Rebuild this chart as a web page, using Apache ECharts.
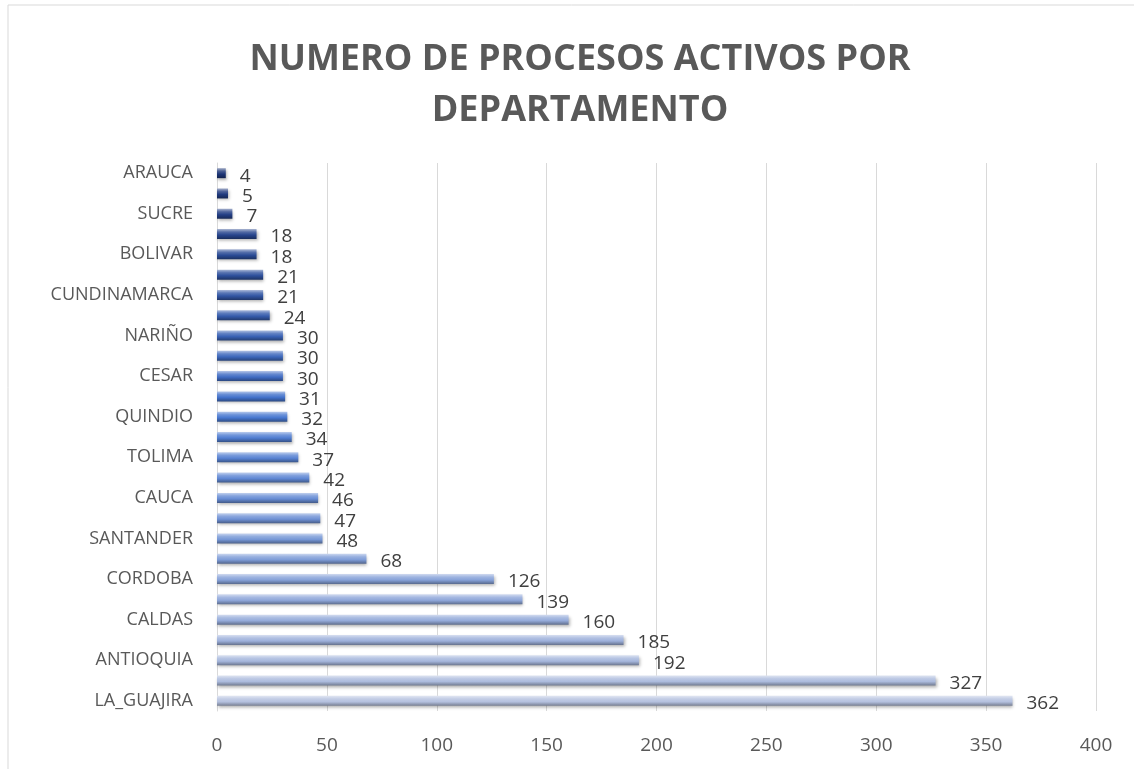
<!DOCTYPE html>
<html>
<head>
<meta charset="utf-8">
<script src="https://cdn.jsdelivr.net/npm/echarts@6/dist/echarts.min.js"></script>
<style>
html,body{margin:0;padding:0;background:#fff;}
#c{width:1134px;height:769px;}
</style>
</head>
<body>
<div id="c"></div>
<script>
const titleText = 'NUMERO DE PROCESOS ACTIVOS POR\nDEPARTAMENTO';
const categories = ['LA_GUAJIRA','MAGDALENA','ANTIOQUIA','ATLANTICO','CALDAS','VALLE_DEL_CAUCA','CORDOBA','META','SANTANDER','BOYACA','CAUCA','RISARALDA','TOLIMA','HUILA','QUINDIO','NORTE_DE_SANTANDER','CESAR','CAQUETA','NARIÑO','CASANARE','CUNDINAMARCA','PUTUMAYO','BOLIVAR','CHOCO','SUCRE','GUAVIARE','ARAUCA'];
const values = [362,327,192,185,160,139,126,68,48,47,46,42,37,34,32,31,30,30,30,24,21,21,18,18,7,5,4];
const xTicks = {min:0, max:400, interval:50};

function lerp(a,b,t){return a.map((v,i)=>Math.round(v+(b[i]-v)*t));}
function baseColor(t){
  const s0=[180,192,222], s1=[70,118,208], s2=[28,52,118];
  return t<0.55 ? lerp(s0,s1,t/0.55) : lerp(s1,s2,(t-0.55)/0.45);
}
function rgb(c){return 'rgb('+c.join(',')+')';}
const n = values.length;
const data = values.map((v,i)=>{
  const b = baseColor(i/(n-1));
  const light = lerp(b,[255,255,255],0.6);
  const dark = lerp(b,[0,0,0],0.35);
  return {value:v, itemStyle:{color:new echarts.graphic.LinearGradient(0,0,0,1,[
    {offset:0,color:rgb(light)},{offset:0.3,color:rgb(lerp(b,[255,255,255],0.2))},
    {offset:0.6,color:rgb(b)},{offset:1,color:rgb(dark)}])}};
});

const chart = echarts.init(document.getElementById('c'));
chart.setOption({
  backgroundColor:'#fff',
  animation:false,
  graphic:[
    {type:'rect',shape:{x:8,y:5,width:1200,height:800},style:{fill:'none',stroke:'#d9d9d9',lineWidth:1},silent:true},
    {type:'text',x:580,y:34,silent:true,style:{text:titleText,textAlign:'center',textVerticalAlign:'top',
      font:'bold 36px "Open Sans"',fill:'#595959',lineHeight:51,align:'center',verticalAlign:'top'}}
  ],
  grid:{left:217,right:38,top:163,bottom:58},
  xAxis:{type:'value',min:xTicks.min,max:xTicks.max,interval:xTicks.interval,
    axisLine:{show:false},axisTick:{show:false},
    splitLine:{lineStyle:{color:'#d9d9d9',width:1}},
    axisLabel:{fontFamily:'Open Sans',fontSize:19,color:'#595959',margin:25}},
  yAxis:{type:'category',data:categories,
    axisLine:{show:true,lineStyle:{color:'#d9d9d9'}},axisTick:{show:false},
    axisLabel:{interval:1,fontFamily:'Open Sans',fontSize:18,color:'#595959',margin:24}},
  series:[{type:'bar',data:data,barWidth:10,
    itemStyle:{shadowColor:'rgba(0,0,0,0.3)',shadowBlur:3,shadowOffsetX:1,shadowOffsetY:2},
    label:{show:true,position:'right',distance:14,offset:[0,3],fontFamily:'Open Sans',fontSize:19,color:'#404040'}}]
});
</script>
</body>
</html>
